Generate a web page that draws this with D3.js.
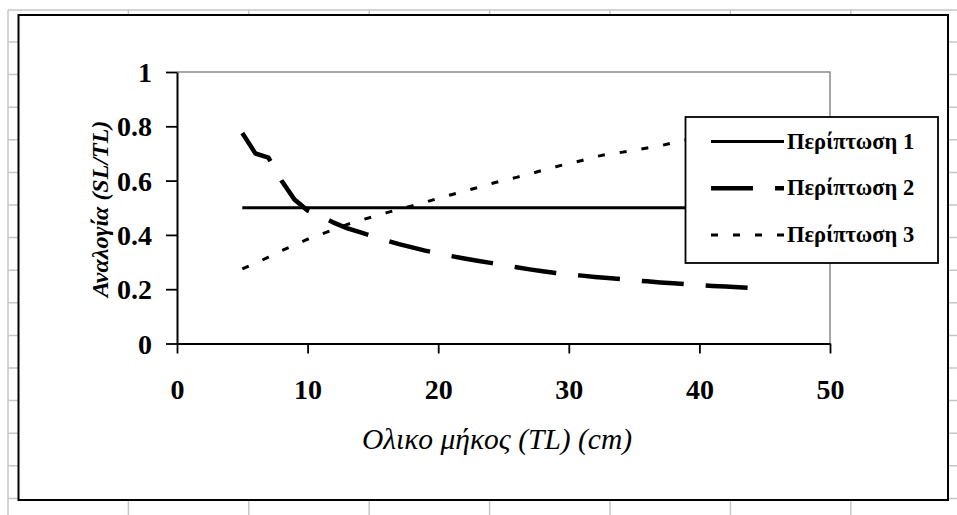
<!DOCTYPE html>
<html>
<head>
<meta charset="utf-8">
<script src="https://cdn.jsdelivr.net/npm/d3@7"></script>
<style>
  html, body { margin: 0; padding: 0; background: #fff; }
  svg { display: block; }
  text { font-family: "Liberation Serif", "Times New Roman", serif; fill: #000; }
</style>
</head>
<body>
<svg id="chart" width="957" height="515"></svg>
<script>
// Total length (TL, cm) at which each ratio was computed
const lengths = [5,6,7,8,9,10,11,12,13,14,15,16,17,18,19,20,21,22,23,24,25,
                 26,27,28,29,30,31,32,33,34,35,36,37,38,39,40,41,42,43,44,45];

// Περίπτωση 1: constant ratio
const case1 = [0.5,0.5,0.5,0.5,0.5,0.5,0.5,0.5,0.5,0.5,0.5,0.5,0.5,0.5,0.5,0.5,0.5,0.5,0.5,0.5,0.5,
               0.5,0.5,0.5,0.5,0.5,0.5,0.5,0.5,0.5,0.5,0.5,0.5,0.5,0.5,0.5,0.5,0.5,0.5,0.5,0.5];

// Περίπτωση 2: ratio falling with length
const case2 = [0.775,0.70,0.685,0.60,0.53,0.49,0.47,0.445,0.425,0.41,0.395,0.38,0.366,0.354,0.342,0.332,0.322,0.313,0.305,0.297,0.289,
               0.281,0.273,0.266,0.26,0.255,0.25,0.245,0.241,0.237,0.233,0.229,0.225,0.222,0.218,0.215,0.212,0.21,0.207,0.204,0.2];

// Περίπτωση 3: ratio rising with length
const case3 = [0.275,0.295,0.318,0.342,0.363,0.384,0.402,0.42,0.438,0.453,0.467,0.481,0.495,0.507,0.52,0.535,0.548,0.561,0.574,0.588,0.601,
               0.612,0.624,0.638,0.651,0.663,0.674,0.688,0.697,0.704,0.711,0.72,0.728,0.74,0.75,0.758,0.765,0.772,0.778,0.784,0.79];

const seriesNames = ["Περίπτωση 1", "Περίπτωση 2", "Περίπτωση 3"];
const xTicks = [0, 10, 20, 30, 40, 50];
const yTicks = [0, 0.2, 0.4, 0.6, 0.8, 1];
const xTitle = "Ολικο μήκος (TL) (cm)";
const yTitle = "Αναλογία (SL/TL)";

const svg = d3.select("#chart");
const W = 957, H = 515;

// --- worksheet cell grid behind the chart object ---
const grid = svg.append("g").attr("stroke", "#c6c6c6").attr("stroke-width", 1.5);
grid.append("line").attr("x1", 8).attr("x2", W).attr("y1", 10).attr("y2", 10);
grid.append("line").attr("x1", 8).attr("x2", 8).attr("y1", 10).attr("y2", H);
d3.range(128.4, W, 120.4).forEach(x =>
  grid.append("line").attr("x1", x).attr("x2", x).attr("y1", 10).attr("y2", H));
d3.range(42, H, 32.6).forEach(y =>
  grid.append("line").attr("x1", 8).attr("x2", W).attr("y1", y).attr("y2", y));

// --- chart area ---
svg.append("rect")
  .attr("x", 18.5).attr("y", 15).attr("width", 929.5).attr("height", 485)
  .attr("fill", "#fff").attr("stroke", "#000").attr("stroke-width", 2);

const plot = { left: 177, right: 830, top: 72, bottom: 343.5 };
const x = d3.scaleLinear().domain([0, 50]).range([plot.left, plot.right]);
const y = d3.scaleLinear().domain([0, 1]).range([plot.bottom, plot.top]);

// plot area frame (top and right edges in grey)
svg.append("path")
  .attr("d", `M${plot.left},${plot.top}H${plot.right}V${plot.bottom}`)
  .attr("fill", "none").attr("stroke", "#8a8a8a").attr("stroke-width", 1.5);

// axes
const xAxis = svg.append("g")
  .attr("transform", `translate(0,${plot.bottom})`)
  .call(d3.axisBottom(x).tickValues(xTicks).tickSize(10).tickSizeOuter(0).tickFormat(d3.format("d")));
const yAxis = svg.append("g")
  .attr("transform", `translate(${plot.left},0)`)
  .call(d3.axisLeft(y).tickValues(yTicks).tickSize(11).tickSizeOuter(0).tickFormat(d => d === 0 || d === 1 ? String(d) : d3.format(".1f")(d)));

[xAxis, yAxis].forEach(g => {
  g.select(".domain").attr("stroke", "#000").attr("stroke-width", 2);
  g.selectAll(".tick line").attr("stroke", "#000").attr("stroke-width", 1.8);
  g.selectAll(".tick text")
    .attr("font-family", "Liberation Serif, Times New Roman, serif")
    .attr("font-size", 28).attr("font-weight", "bold").attr("fill", "#000");
});
xAxis.selectAll(".tick text").attr("y", 0).attr("dy", 0).attr("transform", "translate(0,55)");
yAxis.selectAll(".tick text").attr("x", -25).attr("dy", "0.34em");

// axis titles
svg.append("text")
  .attr("x", 497).attr("y", 449)
  .attr("text-anchor", "middle")
  .attr("font-size", 29.5).attr("font-style", "italic")
  .text(xTitle);
svg.append("text")
  .attr("transform", "translate(108,209) rotate(-90)")
  .attr("text-anchor", "middle")
  .attr("font-size", 24).attr("font-style", "italic").attr("font-weight", "bold")
  .text(yTitle);

// --- series ---
const styles = [
  { values: case1, width: 3,   dash: null },
  { values: case2, width: 4.5, dash: "42,22" },
  { values: case3, width: 3,   dash: "7,15" }
];
const line = d3.line().x(d => x(d[0])).y(d => y(d[1]));
styles.forEach(s => {
  svg.append("path")
    .datum(lengths.map((l, i) => [l, s.values[i]]))
    .attr("d", line)
    .attr("fill", "none")
    .attr("stroke", "#000")
    .attr("stroke-width", s.width)
    .attr("stroke-dasharray", s.dash)
    .attr("stroke-linejoin", "miter");
});

// --- legend ---
const legend = svg.append("g");
legend.append("rect")
  .attr("x", 685.5).attr("y", 117).attr("width", 252.5).attr("height", 146)
  .attr("fill", "#fff").attr("stroke", "#000").attr("stroke-width", 1.8);
seriesNames.forEach((name, i) => {
  const ly = 141.5 + i * 46.8;
  legend.append("line")
    .attr("x1", 711).attr("x2", 784).attr("y1", ly).attr("y2", ly)
    .attr("stroke", "#000").attr("stroke-width", styles[i].width)
    .attr("stroke-dasharray", styles[i].dash);
  legend.append("text")
    .attr("x", 787).attr("y", ly + 7)
    .attr("font-size", 22.5).attr("font-weight", "bold")
    .text(name);
});
</script>
</body>
</html>
